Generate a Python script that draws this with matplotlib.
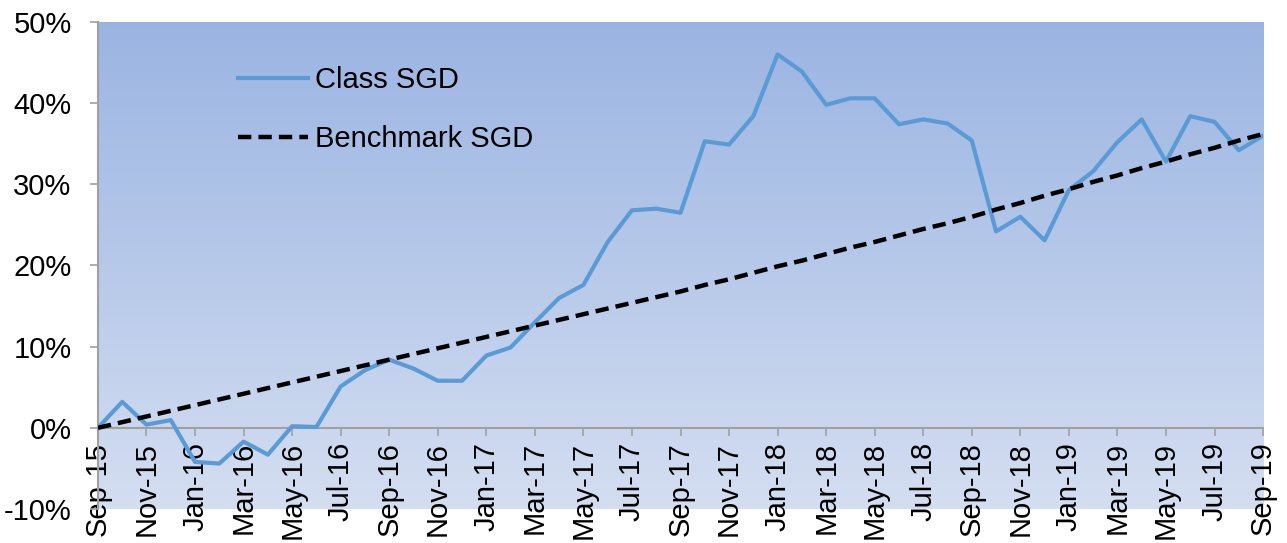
import numpy as np
import matplotlib.pyplot as plt
from matplotlib.colors import LinearSegmentedColormap
from matplotlib.ticker import FuncFormatter

plt.rcParams["font.family"] = ["Liberation Sans", "DejaVu Sans"]

# ==================== 数据 ====================
months = ["Sep-15", "Oct-15", "Nov-15", "Dec-15", "Jan-16", "Feb-16", "Mar-16", "Apr-16",
          "May-16", "Jun-16", "Jul-16", "Aug-16", "Sep-16", "Oct-16", "Nov-16", "Dec-16",
          "Jan-17", "Feb-17", "Mar-17", "Apr-17", "May-17", "Jun-17", "Jul-17", "Aug-17",
          "Sep-17", "Oct-17", "Nov-17", "Dec-17", "Jan-18", "Feb-18", "Mar-18", "Apr-18",
          "May-18", "Jun-18", "Jul-18", "Aug-18", "Sep-18", "Oct-18", "Nov-18", "Dec-18",
          "Jan-19", "Feb-19", "Mar-19", "Apr-19", "May-19", "Jun-19", "Jul-19", "Aug-19",
          "Sep-19"]

class_sgd = [0.0, 3.2, 0.4, 0.95, -4.2, -4.4, -1.7, -3.3,
             0.2, 0.1, 5.1, 7.1, 8.4, 7.3, 5.8, 5.8,
             8.9, 9.9, 13.0, 16.0, 17.6, 22.9, 26.8, 27.0,
             26.5, 35.3, 34.9, 38.4, 46.0, 43.9, 39.8, 40.6,
             40.6, 37.4, 38.0, 37.5, 35.4, 24.2, 26.0, 23.1,
             29.3, 31.6, 35.2, 38.0, 32.8, 38.4, 37.7, 34.2,
             36.0]

benchmark_sgd = [0.0, 0.7, 1.4, 2.1, 2.8, 3.5, 4.2, 4.9,
                 5.6, 6.3, 7.0, 7.7, 8.4, 9.1, 9.8, 10.5,
                 11.2, 11.9, 12.6, 13.3, 14.0, 14.7, 15.4, 16.1,
                 16.8, 17.6, 18.3, 19.1, 19.9, 20.6, 21.4, 22.2,
                 22.9, 23.7, 24.5, 25.2, 26.0, 26.9, 27.7, 28.6,
                 29.4, 30.3, 31.1, 32.0, 32.8, 33.7, 34.5, 35.4,
                 36.2]

y_ticks = [-10, 0, 10, 20, 30, 40, 50]

# ==================== 绘图 ====================
fig = plt.figure(figsize=(12.87, 5.43), dpi=100)
ax = fig.add_axes([0.0761, 0.0626, 0.9053, 0.8969])

x = np.arange(len(months))
ax.set_xlim(0, len(months) - 1)
ax.set_ylim(-10, 50)

# 背景渐变
grad = LinearSegmentedColormap.from_list("bg", ["#D4DEF1", "#9AB4E2"])
ax.imshow(np.linspace(0, 1, 256).reshape(-1, 1), cmap=grad, aspect="auto",
          extent=[0, len(months) - 1, -10, 50], origin="lower", zorder=0)

ax.plot(x, class_sgd, color="#5B9BD5", lw=3.0, label="Class SGD", zorder=3)
ax.plot(x, benchmark_sgd, color="black", lw=3.2, ls=(0, (3, 1.6)),
        label="Benchmark SGD", zorder=4)

# 坐标轴
for s in ["top", "right"]:
    ax.spines[s].set_visible(False)
ax.spines["bottom"].set_position(("data", 0))
ax.spines["bottom"].set_color("#A0A0A0")
ax.spines["left"].set_color("#A0A0A0")
ax.spines["bottom"].set_linewidth(1.5)
ax.spines["left"].set_linewidth(1.5)
ax.spines["bottom"].set_zorder(2)

ax.set_yticks(y_ticks)
ax.yaxis.set_major_formatter(FuncFormatter(lambda v, p: f"{v:.0f}%"))
ax.tick_params(axis="y", direction="out", length=6, width=1.2, color="#A0A0A0",
               labelsize=21, pad=13)

ax.set_xticks(x[::2])
ax.set_xticklabels(months[::2], rotation=90, va="top", ha="center")
ax.tick_params(axis="x", direction="out", length=6, width=1.2, color="#A0A0A0",
               labelsize=21, pad=4)

ax.legend(loc="upper left", bbox_to_anchor=(0.120, 0.909), frameon=False,
          fontsize=21, handlelength=2.4, handletextpad=0.25, labelspacing=1.05,
          borderpad=0, borderaxespad=0)

fig.savefig("out.png", dpi=100)
